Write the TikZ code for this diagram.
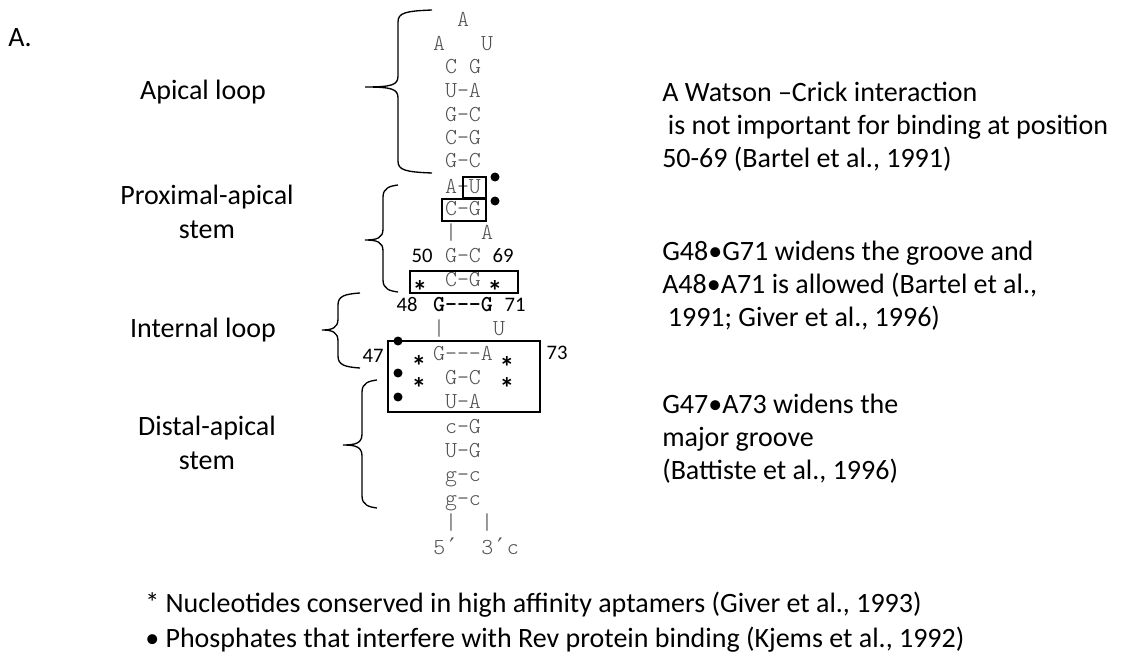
\documentclass[tikz,border=0pt]{standalone}
\usepackage{fontspec}
\setmainfont{Carlito}
\newfontfamily\seqfont{Latin Modern Mono Light}
\newfontfamily\primefont{DejaVu Sans Mono}
\definecolor{seqgray}{HTML}{505050}

\begin{document}
\begin{tikzpicture}[x=.75pt,y=-.75pt,
  seq/.style={font=\seqfont\fontsize{17.1}{17.1}\selectfont,text=seqgray,inner sep=0pt,text height=1.5ex,text depth=0pt},
  boldseq/.style={seq,font=\seqfont\bfseries\fontsize{17.1}{17.1}\selectfont,text=black},
  num/.style={font=\fontsize{15.5}{15.5}\selectfont,inner sep=0pt,text height=1.5ex,text depth=0pt},
  lab/.style={font=\fontsize{21}{26}\selectfont,align=center,inner sep=0pt},
  note/.style={font=\fontsize{21}{24.75}\selectfont,align=left,anchor=west,inner sep=0pt},
  cons/.style={font=\bfseries\fontsize{22}{22}\selectfont,inner sep=0pt,anchor=base,text height=.72em,text depth=0pt},
  dot/.style={circle,fill=black,inner sep=0pt,minimum size=6.75pt},
  box/.style={line width=.9pt},
  brace/.style={line width=1pt}]
\useasboundingbox(0,0)rectangle(1125,656);
% labels on the left
\node[lab](fig)at(20,38){A.};
\node[lab](apical)at(203,92){Apical loop};
\node[lab](proxstem)at(207,212){Proximal-apical\\stem};
\node[lab](intloop)at(203,330){Internal loop};
\node[lab](diststem)at(207,443){Distal-apical\\stem};
% braces
\foreach \xe/\xv/\xt/\yt/\ym/\yb in {432/398/365/10/87/173,398/383/365/185/240/292,360/338/322/293/330/368,377/362/343/380/445/508}
  \draw[brace](\xe,\yt)..controls(\xv+7,\yt+1)and(\xv,\yt+3)..(\xv,\yt+12)--(\xv,\ym-11)
    ..controls(\xv,\ym-2)and(\xv-6,\ym)..(\xt,\ym)..controls(\xv-6,\ym)and(\xv,\ym+2)..(\xv,\ym+11)
    --(\xv,\yb-12)..controls(\xv,\yb-3)and(\xv+7,\yb-1)..(\xe,\yb);
% apical loop
\node[seq](a1)at(463,22){A};
\node[seq](a2)at(439,46){A};\node[seq](u2)at(487,46){U};
\node[seq](c3)at(451,69){C};\node[seq](g3)at(475,69){G};
\node[seq](ua1)at(463,93){U-A};
\node[seq](gc1)at(463,117){G-C};
\node[seq](cg1)at(463,140){C-G};
\node[seq](gc2)at(463,163){G-C};
% proximal-apical stem
\node[seq](au1)at(463,189){A-U};
\node[seq](cg2)at(463,211){C-G};
\node[seq](bar1)at(451,235){|};\node[seq](a3)at(487,235){A};
\node[seq](gc3)at(463,258){G-C};
\node[seq](cg3)at(463,282){C-G};
\draw[box](463,177)rectangle(486,198);
\draw[box](442,199)rectangle(486,221);
\draw[box](410,271)rectangle(518,293);
\node[dot](ph1)at(495,177){};\node[dot](ph2)at(495,201){};
\node[num](n50)at(422,258){50};\node[num](n69)at(503,258){69};
\node[cons](s1)at(420,301){*};\node[cons](s2)at(495,301){*};
% internal loop
\node[boldseq](gg)at(463,307){G---G};
\node[num](n48)at(407,307){48};\node[num](n71)at(515,307){71};
\node[seq](bar2)at(439,331){|};\node[seq](u3)at(499,331){U};
\node[seq](ga)at(463,356){G---A};
\node[seq](gc4)at(463,380){G-C};
\node[seq](ua2)at(463,404){U-A};
\draw[box](388,341)rectangle(540,412);
\node[dot](ph3)at(398,341){};\node[dot](ph4)at(398,373){};\node[dot](ph5)at(398,397){};
\node[num](n47)at(373,358){47};\node[num](n73)at(557,355){73};
\node[cons](s3)at(419,376){*};\node[cons](s4)at(507,377){*};
\node[cons](s5)at(419,398){*};\node[cons](s6)at(507,398){*};
% distal-apical stem
\node[seq](cg4)at(463,429){c-G};
\node[seq](ug)at(463,453){U-G};
\node[seq](gc5)at(463,477){g-c};
\node[seq](gc6)at(463,501){g-c};
\node[seq](bar3)at(451,525){|};\node[seq](bar4)at(487,525){|};
\node[seq,anchor=west](end5)at(433,550){5{\primefont′}};
\node[seq,anchor=west](end3)at(481,550){3{\primefont′}c};
% notes on the right
\node[note](wc)at(662,127){A Watson --Crick interaction\\\hspace*{.2em}is not important for binding at position\\50-69 (Bartel et al., 1991)};
\node[note](g48)at(662,286){G48•G71 widens the groove and\\A48•A71 is allowed (Bartel et al.,\\\hspace*{.2em}1991; Giver et al., 1996)};
\node[note](g47)at(662,439){G47•A73 widens the\\major groove\\(Battiste et al., 1996)};
% key
\node[note](key1)at(145,605){* Nucleotides conserved in high affinity aptamers (Giver et al., 1993)};
\node[note](key2)at(145,640){• Phosphates that interfere with Rev protein binding (Kjems et al., 1992)};
\end{tikzpicture}
\end{document}
